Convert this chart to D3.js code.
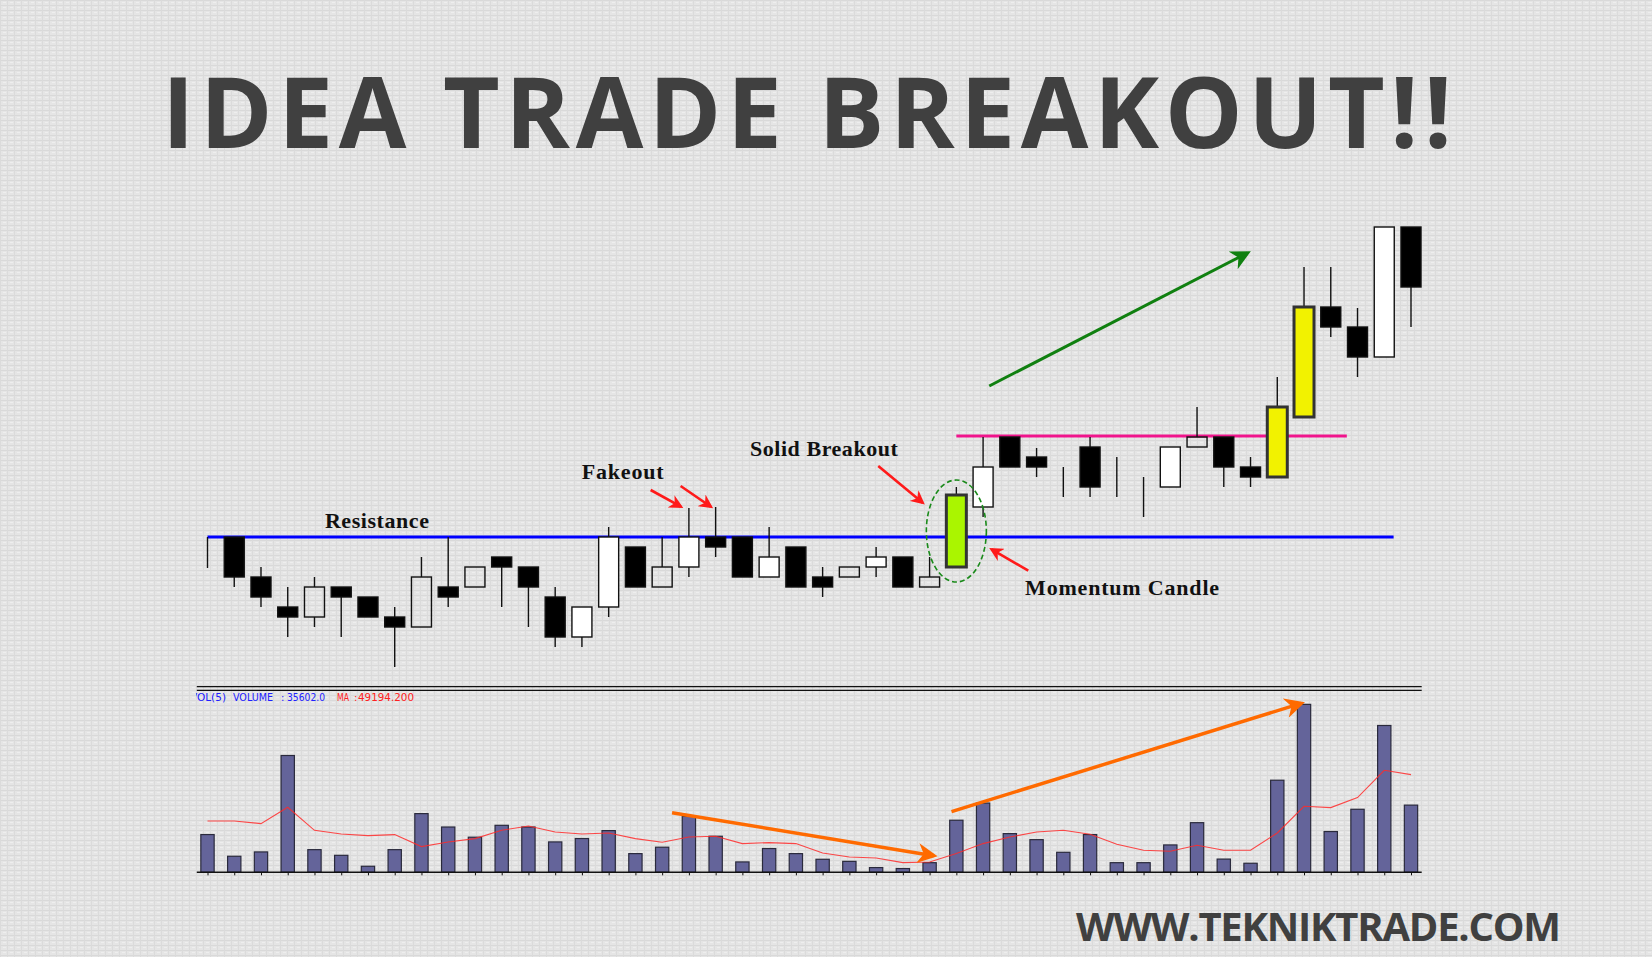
<!DOCTYPE html>
<html>
<head>
<meta charset="utf-8">
<script src="https://cdn.jsdelivr.net/npm/d3@7"></script>
<style>
  html, body { margin: 0; padding: 0; background: #e4e4e4; }
  svg { display: block; }
</style>
</head>
<body>
<svg id="chart" width="1652" height="957"></svg>
<script>
// candle data, one value per bar (price units)
let open_ = [99, 100, 96, 93, 92, 95, 94, 92, 91, 95, 95, 98, 97, 94, 90, 93, 99, 95, 97, 100, 100, 96, 99, 96, 96, 97, 98, 95, 97, 103, 110, 108, 107, 109, 105, 105, 105, 109, 110, 107, 106, 112, 123, 121, 118, 131];
let high_ = [100, 100, 97, 95, 96, 95, 94, 93, 98, 100, 97, 98, 97, 95, 93, 101, 99, 100, 102.9, 103, 100, 101, 99, 97, 97, 99, 98, 98, 105, 110, 110, 108.9, 107, 110, 108, 106, 109, 113, 110, 108, 116, 127, 127, 122.9, 131, 131];
let low_ = [96.9, 95, 93, 90, 91, 90, 92, 87, 91, 93, 95, 93, 91, 89, 89, 92, 95, 95, 96, 98, 96, 96, 95, 94, 96, 96, 95, 95, 97, 102, 107, 106, 104, 104, 104, 102, 105, 109, 105, 105, 106, 112, 120, 116, 118, 121];
let close_ = [99, 96, 94, 92, 95, 94, 92, 91, 96, 94, 97, 97, 95, 90, 93, 100, 95, 97, 100, 99, 96, 98, 95, 95, 97, 98, 95, 96, 104.2, 107, 107, 107, 107, 105, 105, 105, 109, 110, 107, 106, 113, 123, 121, 118, 131, 125];
// bars drawn as outline only
let hollow_bars = [4, 8, 10, 17, 24, 27, 37];
// highlighted bars
let green_bars = [28];
let yellow_bars = [40, 41];

// volume and its 5-bar average
let volume = [20000, 8500, 10800, 61900, 12000, 9000, 3200, 12000, 31100, 24000, 18600, 24900, 24000, 16100, 17900, 22100, 9900, 13300, 29700, 19100, 5500, 12600, 9900, 6900, 5800, 2500, 2000, 5100, 27600, 36700, 20500, 17300, 10600, 20000, 5100, 5100, 14500, 26300, 7000, 4800, 48800, 89000, 21600, 33400, 77800, 35602];
let vol_ma = [27190, 27190, 25810, 34450, 22260, 20300, 19450, 19980, 13620, 16060, 17860, 22260, 24540, 21360, 20300, 20830, 17860, 15900, 18710, 19080, 15210, 15740, 15210, 10230, 8110, 7580, 5140, 5460, 9910, 15210, 18710, 21360, 22260, 20140, 14840, 11660, 11130, 14310, 11660, 11660, 20830, 34980, 34290, 39590, 54060, 51780];
let ma_label = 49194.2;

// levels: [price, from bar, to bar]
let resistance = [100, 0, 44.35];
let new_level = [110.1, 28, 42.6];

// annotation arrows in [bar, price] pairs
let red_arrows = [
    [[16.57, 104.7], [17.70, 103.03]],
    [[17.69, 105.1], [18.82, 103.03]],
    [[25.08, 107.1], [26.74, 103.43]],
    [[30.69, 96.63], [29.32, 98.77]]
];
let green_arrow = [[29.23, 115.1], [38.88, 128.4]];
// volume arrows in [bar, volume] pairs
let orange_arrows = [
    [[17.37, 31600], [27.15, 8800]],
    [[27.82, 32170], [40.89, 89500]]
];
// labels: [text, bar, price, width]
let labels = [
    ["Resistance", 4.39, 100.9, 104],
    ["Fakeout", 13.99, 105.8, 82],
    ["Solid Breakout", 20.28, 108.1, 148],
    ["Momentum Candle", 30.57, 94.2, 194]
];

let svg = d3.select("#chart");
let W = 1652, H = 957;

// background with a faint canvas texture
let defs = svg.append("defs");
let pat = defs.append("pattern")
    .attr("id", "canvas")
    .attr("width", 7).attr("height", 5)
    .attr("patternUnits", "userSpaceOnUse");
pat.append("rect").attr("width", 7).attr("height", 5).attr("fill", "#e5e5e5");
pat.append("rect").attr("x", 0).attr("y", 0).attr("width", 7).attr("height", 1).attr("fill", "#d9d9d9");
pat.append("rect").attr("x", 0).attr("y", 0).attr("width", 1).attr("height", 5).attr("fill", "#dbdbdb");
pat.append("rect").attr("x", 3).attr("y", 2).attr("width", 3).attr("height", 1).attr("fill", "#eeeeee");

svg.append("rect").attr("width", W).attr("height", H).attr("fill", "url(#canvas)");

function add_marker(id, color, size) {
    defs.append("marker")
        .attr("id", id)
        .attr("viewBox", "0 0 10 10")
        .attr("refX", 8).attr("refY", 5)
        .attr("markerWidth", size).attr("markerHeight", size)
        .attr("markerUnits", "userSpaceOnUse")
        .attr("orient", "auto")
        .append("path")
        .attr("d", "M0,0 L10,5 L0,10 L3,5 z")
        .attr("fill", color);
}
add_marker("head_red", "#ff1a1a", 14);
add_marker("head_green", "#108010", 20);
add_marker("head_orange", "#ff6a00", 20);

defs.append("clipPath").attr("id", "volclip")
    .append("rect").attr("x", 196).attr("y", 680).attr("width", 1240).attr("height", 200);

// title and footer
svg.append("text")
    .attr("x", 162).attr("y", 148)
    .attr("font-family", "'Open Sans', 'Noto Sans', sans-serif")
    .attr("font-weight", 700)
    .attr("font-size", 98)
    .attr("fill", "#404040")
    .attr("textLength", 1290)
    .attr("lengthAdjust", "spacing")
    .text("IDEA TRADE BREAKOUT!!");

svg.append("text")
    .attr("x", 1076).attr("y", 941)
    .attr("font-family", "'Open Sans', 'Noto Sans', sans-serif")
    .attr("font-weight", 700)
    .attr("font-size", 40)
    .attr("fill", "#404040")
    .attr("textLength", 485)
    .attr("lengthAdjust", "spacing")
    .text("WWW.TEKNIKTRADE.COM");

// scales
let x = d3.scaleLinear().domain([0, 45]).range([207.5, 1411]);
let y = d3.scaleLinear().domain([80, 140]).range([737, 137]);
let yv = d3.scaleLinear().domain([0, 100000]).range([872.3, 683.6]);

let body_w = 20;
let vol_w = 13.3;

let data = open_.map(function (d, i) {
    let kind = close_[i] < open_[i] ? "black" : "white";
    if (hollow_bars.indexOf(i) >= 0) kind = "hollow";
    if (green_bars.indexOf(i) >= 0) kind = "green";
    if (yellow_bars.indexOf(i) >= 0) kind = "yellow";
    return { i: i, o: open_[i], h: high_[i], l: low_[i], c: close_[i], kind: kind };
});

// level lines
svg.append("line")
    .attr("x1", x(resistance[1])).attr("x2", x(resistance[2]))
    .attr("y1", y(resistance[0])).attr("y2", y(resistance[0]))
    .attr("stroke", "#0000ff").attr("stroke-width", 3);

svg.append("line")
    .attr("x1", x(new_level[1])).attr("x2", x(new_level[2]))
    .attr("y1", y(new_level[0])).attr("y2", y(new_level[0]))
    .attr("stroke", "#f0148c").attr("stroke-width", 3);

// candles
let g = svg.append("g");
let candle = g.selectAll(".candle")
    .data(data)
    .enter().append("g")
    .attr("class", "candle");

// upper wick
candle.append("line")
    .attr("x1", function (d) { return x(d.i); })
    .attr("x2", function (d) { return x(d.i); })
    .attr("y1", function (d) { return y(d.h); })
    .attr("y2", function (d) { return y(Math.max(d.o, d.c)); })
    .attr("stroke", "#111").attr("stroke-width", 1.4);
// lower wick
candle.append("line")
    .attr("x1", function (d) { return x(d.i); })
    .attr("x2", function (d) { return x(d.i); })
    .attr("y1", function (d) { return y(Math.min(d.o, d.c)); })
    .attr("y2", function (d) { return y(d.l); })
    .attr("stroke", "#111").attr("stroke-width", 1.4);

candle.append("rect")
    .attr("x", function (d) { return x(d.i) - body_w / 2; })
    .attr("y", function (d) { return y(Math.max(d.o, d.c)); })
    .attr("width", body_w)
    .attr("height", function (d) { return Math.abs(y(d.o) - y(d.c)); })
    .attr("fill", function (d) {
        if (d.kind == "black") return "#000";
        if (d.kind == "white") return "#fff";
        if (d.kind == "green") return "#aaf500";
        if (d.kind == "yellow") return "#f2f200";
        return "none";
    })
    .attr("stroke", function (d) {
        return (d.kind == "green" || d.kind == "yellow") ? "#333" : "#111";
    })
    .attr("stroke-width", function (d) {
        return (d.kind == "green" || d.kind == "yellow") ? 3 : 1.4;
    });

// breakout ellipse
svg.append("ellipse")
    .attr("cx", x(green_bars[0]))
    .attr("cy", y(100.6))
    .attr("rx", 30)
    .attr("ry", y(95.5) - y(100.6))
    .attr("fill", "none")
    .attr("stroke", "#1a8a1a")
    .attr("stroke-width", 1.6)
    .attr("stroke-dasharray", "5,3");

// annotations
svg.selectAll(".red_arrow")
    .data(red_arrows)
    .enter().append("line")
    .attr("class", "red_arrow")
    .attr("x1", function (d) { return x(d[0][0]); })
    .attr("y1", function (d) { return y(d[0][1]); })
    .attr("x2", function (d) { return x(d[1][0]); })
    .attr("y2", function (d) { return y(d[1][1]); })
    .attr("stroke", "#ff1a1a")
    .attr("stroke-width", 2.6)
    .attr("marker-end", "url(#head_red)");

svg.append("line")
    .attr("x1", x(green_arrow[0][0])).attr("y1", y(green_arrow[0][1]))
    .attr("x2", x(green_arrow[1][0])).attr("y2", y(green_arrow[1][1]))
    .attr("stroke", "#108010")
    .attr("stroke-width", 3)
    .attr("marker-end", "url(#head_green)");

svg.selectAll(".label")
    .data(labels)
    .enter().append("text")
    .attr("class", "label")
    .attr("x", function (d) { return x(d[1]); })
    .attr("y", function (d) { return y(d[2]); })
    .attr("font-family", "'Liberation Serif', 'Times New Roman', serif")
    .attr("font-weight", 700)
    .attr("font-size", 22)
    .attr("fill", "#111")
    .attr("textLength", function (d) { return d[3]; })
    .attr("lengthAdjust", "spacing")
    .text(function (d) { return d[0]; });

// volume panel
let vg = svg.append("g");

vg.append("line")
    .attr("x1", x(-0.4)).attr("x2", x(45.4))
    .attr("y1", 686.7).attr("y2", 686.7)
    .attr("stroke", "#111").attr("stroke-width", 1.2);
vg.append("line")
    .attr("x1", x(-0.4)).attr("x2", x(45.4))
    .attr("y1", 690.3).attr("y2", 690.3)
    .attr("stroke", "#111").attr("stroke-width", 1.2);

// indicator header, pieces placed as in the original terminal
let header = [
    ["VOL(5)", 190, 36, "#2020ff"],
    ["VOLUME", 233, 40, "#2020ff"],
    [":", 281, 2, "#2020ff"],
    [d3.format(".1f")(volume[volume.length - 1]), 287, 38, "#2020ff"],
    ["MA", 337, 12, "#ff2020"],
    [":", 354, 2, "#ff2020"],
    [d3.format(".3f")(ma_label), 358, 56, "#ff2020"]
];
vg.append("g").attr("clip-path", "url(#volclip)")
    .selectAll("text")
    .data(header)
    .enter().append("text")
    .attr("x", function (d) { return d[1]; })
    .attr("y", 701)
    .attr("font-family", "'DejaVu Sans', Arial, sans-serif")
    .attr("font-size", 10)
    .attr("fill", function (d) { return d[3]; })
    .attr("textLength", function (d) { return d[0].length > 1 ? d[2] : null; })
    .attr("lengthAdjust", "spacingAndGlyphs")
    .text(function (d) { return d[0]; });

vg.selectAll(".vbar")
    .data(volume)
    .enter().append("rect")
    .attr("class", "vbar")
    .attr("x", function (d, i) { return x(i) - vol_w / 2; })
    .attr("y", function (d) { return yv(d); })
    .attr("width", vol_w)
    .attr("height", function (d) { return yv(0) - yv(d); })
    .attr("fill", "#64649a")
    .attr("stroke", "#2a2a3c")
    .attr("stroke-width", 1.2);

vg.append("path")
    .datum(vol_ma)
    .attr("fill", "none")
    .attr("stroke", "#ff2a2a")
    .attr("stroke-width", 1.1)
    .attr("opacity", 0.85)
    .attr("d", d3.line()
        .x(function (d, i) { return x(i); })
        .y(function (d) { return yv(d); }));

// bottom axis of the volume panel
vg.append("g")
    .attr("transform", "translate(0," + yv(0) + ")")
    .call(d3.axisBottom(x).tickValues(d3.range(0, 46)).tickSize(3).tickFormat(""))
    .call(function (a) { a.select(".domain").remove(); })
    .selectAll("line").attr("stroke", "#111");

vg.append("line")
    .attr("x1", x(-0.4)).attr("x2", x(45.4))
    .attr("y1", yv(0)).attr("y2", yv(0))
    .attr("stroke", "#111").attr("stroke-width", 1.6);

vg.selectAll(".orange_arrow")
    .data(orange_arrows)
    .enter().append("line")
    .attr("class", "orange_arrow")
    .attr("x1", function (d) { return x(d[0][0]); })
    .attr("y1", function (d) { return yv(d[0][1]); })
    .attr("x2", function (d) { return x(d[1][0]); })
    .attr("y2", function (d) { return yv(d[1][1]); })
    .attr("stroke", "#ff6a00")
    .attr("stroke-width", 3.5)
    .attr("marker-end", "url(#head_orange)");
</script>
</body>
</html>
